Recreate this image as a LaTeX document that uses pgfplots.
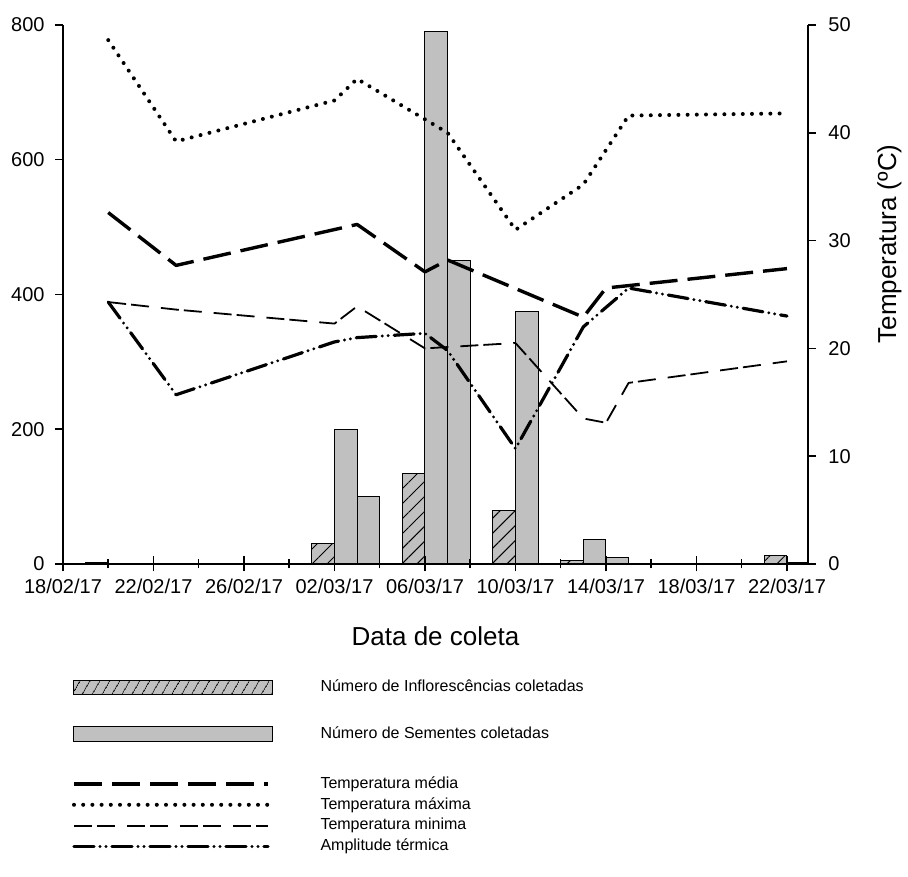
\documentclass[border=0pt]{standalone}
\usepackage{pgfplots}
\pgfplotsset{compat=1.18}
\usetikzlibrary{patterns.meta}
\usepackage{fontspec}
\setmainfont{Liberation Sans}
\definecolor{bargray}{RGB}{192,192,192}

\begin{document}
\begin{tikzpicture}
\useasboundingbox (-31.5pt,-156pt) rectangle (422.5pt,282pt);
\pgfplotsset{
  base/.style={
    width=372.5pt, height=269.5pt, scale only axis,
    at={(0pt,0pt)}, anchor=south west,
    xmin=0, xmax=32.93,
    /pgf/number format/assume math mode=true,
    tick label style={font=\fontsize{10}{12}\selectfont, black},
    axis line style={line width=0.75pt, black},
    tick style={line width=0.75pt, black},
  },
}
% ---------- bars (left axis) ----------
\begin{axis}[base,
  ymin=0, ymax=800,
  axis y line*=left, axis x line=none, xtick=\empty,
  ytick={0,200,...,800},
  tick align=outside, major tick length=4pt,
  yticklabel style={inner xsep=5pt},
  ybar, bar width=1, bar shift=0pt,
]
\addplot[draw=black, line width=0.5pt, fill=bargray,
  postaction={pattern={Lines[angle=45,distance=5.3pt,line width=0.5pt]}}]
  coordinates {(1.5,2) (11.5,31) (15.5,134) (19.5,80) (22.5,5) (31.5,13)};
\addplot[draw=black, line width=0.5pt, fill=bargray]
  coordinates {(12.5,200) (13.5,100) (16.5,790) (17.5,450) (20.5,375) (23.5,36) (24.5,10) (32.5,2)};
\end{axis}
% ---------- temperatures (right axis) ----------
\begin{axis}[base,
  ymin=0, ymax=50,
  axis y line*=right, axis x line=none, xtick=\empty,
  ytick={0,10,...,50},
  tick align=outside, major tick length=4pt,
  yticklabel style={inner xsep=6pt},
  ylabel={Temperatura (ºC)},
  every axis y label/.style={at={(axis description cs:1.0926,0.594)}, anchor=north, rotate=90, inner sep=0pt, font=\fontsize{13}{15}\selectfont},
  legend cell align=left,
  legend style={at={(0,0)}, anchor=north west, xshift=4.5pt, yshift=-49.5pt,
    draw=none, fill=none, inner sep=0pt, outer sep=0pt,
    column sep=24pt, row sep=0pt, nodes={inner sep=0pt},
    font=\fontsize{8}{9.6}\selectfont},
  legend image code/.code={\draw[#1] (0pt,0pt) -- (97pt,0pt); \path[draw=none,fill=none] (0pt,-5.2pt) -- (0pt,5.2pt);},
]
\addlegendimage{legend image code/.code={\draw[black, line width=0.5pt, fill=bargray, postaction={pattern={Lines[angle=60,distance=4pt,line width=0.5pt]}}] (0pt,-3.5pt) rectangle (99pt,3.5pt); \path[draw=none,fill=none] (0pt,-11.5pt) -- (0pt,12pt);}}
\addlegendentry{Número de Inflorescências coletadas}
\addlegendimage{legend image code/.code={\draw[black, line width=0.5pt, fill=bargray] (0pt,-3.75pt) rectangle (99pt,3.75pt); \path[draw=none,fill=none] (0pt,-19.8pt) -- (0pt,12pt) (99pt,0pt);}}
\addlegendentry{Número de Sementes coletadas}

\addplot[black, line width=1.7pt, line join=round, dash pattern=on 14pt off 5pt]
  coordinates {(2,32.6) (5,27.7) (13,31.5) (16,27.1) (17,28.2) (23,22.9) (24,25.6) (32,27.4)};
\addlegendentry{Temperatura média}
\addplot[black, line width=2pt, line cap=round, line join=round, dash pattern=on 0pt off 4.6pt]
  coordinates {(2,48.6) (5,39.2) (12,43.0) (13,45.0) (17,40.0) (20,31.0) (23,35.2) (25,41.6) (32,41.8)};
\addlegendentry{Temperatura máxima}
\addplot[black, line width=0.9pt, line join=round, dash pattern=on 9pt off 2.5pt on 9pt off 6pt]
  coordinates {(2,24.3) (5,23.6) (12,22.3) (13,23.9) (16,20.0) (20,20.5) (23,13.5) (24,13.1) (25,16.8) (32,18.8)};
\addlegendentry{Temperatura minima}
\addplot[black, line width=1.6pt, line cap=round, line join=round, dash pattern=on 10pt off 3pt on 0pt off 3pt on 0pt off 3pt]
  coordinates {(2,24.3) (5,15.7) (12,20.6) (13,21.0) (16,21.4) (17,19.8) (20,10.7) (23,22.0) (25,25.6) (32,23.0)};
\addlegendentry{Amplitude térmica}
\end{axis}
% ---------- x axis ----------
\begin{axis}[base,
  ymin=0, ymax=1,
  axis x line*=bottom, axis y line=none,
  xtick={0,4,...,32},
  xticklabels={18/02/17,22/02/17,26/02/17,02/03/17,06/03/17,10/03/17,14/03/17,18/03/17,22/03/17},
  minor xtick={2,6,...,30},
  tick align=center, major tick length=7.5pt, minor tick length=4.5pt,
  xlabel={Data de coleta},
  every axis x label/.style={at={(axis description cs:0.5,0)}, anchor=north, yshift=-31pt, inner sep=0pt, font=\fontsize{13}{15}\selectfont},
]
\addplot[draw=none, forget plot] coordinates {(1,0.5)};
\end{axis}
\end{tikzpicture}
\end{document}
